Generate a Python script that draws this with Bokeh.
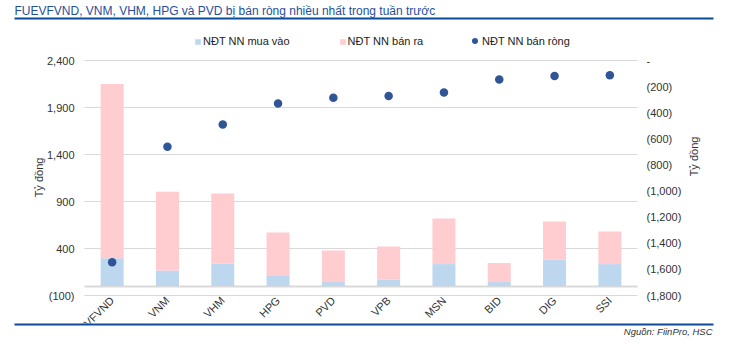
import math
from bokeh.plotting import figure
from bokeh.models import (Range1d, LinearAxis, FixedTicker, ColumnDataSource, Legend,
                          LegendItem, Label, BoxAnnotation, Grid)
from bokeh.embed import file_html
from bokeh.resources import INLINE

# ---------------- data ----------------
tickers = ["FUEVFVND", "VNM", "VHM", "HPG", "PVD", "VPB", "MSN", "BID", "DIG", "SSI"]
buy = [295, 167, 240, 114, 43, 71, 234, 43, 283, 234]          # NĐT NN mua vào
sell = [1855, 838, 744, 456, 336, 350, 485, 202, 404, 347]      # NĐT NN bán ra
net = [-1545, -660, -490, -329, -286, -271, -245, -146, -118, -113]  # NĐT NN bán ròng

left_ticks = [-100, 400, 900, 1400, 1900, 2400]
left_labels = ["(100)", "400", "900", "1,400", "1,900", "2,400"]
right_ticks = [-1800, -1600, -1400, -1200, -1000, -800, -600, -400, -200, 0]
right_labels = ["(1,800)", "(1,600)", "(1,400)", "(1,200)", "(1,000)", "(800)",
                "(600)", "(400)", "(200)", "-"]
series_names = ["NĐT NN mua vào", "NĐT NN bán ra", "NĐT NN bán ròng"]
title_text = "FUEVFVND, VNM, VHM, HPG và PVD bị bán ròng nhiều nhất trong tuần trước"
source_text = "Nguồn: FiinPro, HSC"
unit_text = "Tỷ đồng"

# ---------------- styles / layout ----------------
FONT = "Liberation Sans"
BLUE_BAR = "#bdd7ee"
PINK_BAR = "#ffcccf"
DOT = "#2f5597"
NAVY = "#0d4a97"
TXT = "#333333"
GRID = "#d9d9d9"

W, H = 738, 351
PL, PR, PT, PB = 84, 637, 60, 295   # plot-area edges in canvas pixels (y down)

n = len(tickers)
idx = list(range(n))
lo, hi = left_ticks[0], left_ticks[-1]
rlo, rhi = right_ticks[0], right_ticks[-1]

# the frame covers the whole canvas; ranges are stretched so that the
# plot area sits at PL..PR x PT..PB
xs = n / (PR - PL)
x_range = Range1d(-0.5 - PL * xs, n - 0.5 + (W - PR) * xs)
ys = (hi - lo) / (PB - PT)
y_range = Range1d(lo - (H - PB) * ys, hi + PT * ys)
rs = (rhi - rlo) / (PB - PT)
r_range = Range1d(rlo - (H - PB) * rs, rhi + PT * rs)

src = ColumnDataSource(dict(x=idx, ticker=tickers, buy=buy, sell=sell, net=net))

p = figure(x_range=x_range, y_range=y_range, width=W, height=H,
           output_backend="svg", toolbar_location=None,
           min_border=0, min_border_left=0, min_border_right=0,
           min_border_top=0, min_border_bottom=0,
           outline_line_color=None, background_fill_color="white",
           border_fill_color="white")
p.extra_y_ranges = {"net": r_range}

# grid
p.xgrid.visible = False
p.ygrid.visible = False
p.add_layout(Grid(dimension=1, ticker=FixedTicker(ticks=left_ticks),
                  cross_bounds=(-0.5, n - 0.5), grid_line_color=GRID,
                  grid_line_width=1))
p.add_layout(Grid(dimension=1, ticker=FixedTicker(ticks=[0]),
                  cross_bounds=(-0.5, n - 0.5), grid_line_color=GRID,
                  grid_line_width=2))

# left axis
la = p.yaxis[0]
la.fixed_location = -0.5
la.ticker = FixedTicker(ticks=left_ticks)
la.major_label_overrides = {t: l for t, l in zip(left_ticks, left_labels)}
la.axis_line_color = None
la.major_tick_line_color = None
la.minor_tick_line_color = None
la.major_tick_out = 0
la.major_tick_in = 0
la.major_label_standoff = 10
la.major_label_text_font = FONT
la.major_label_text_font_size = "11px"
la.major_label_text_color = TXT

# right axis
ra = LinearAxis(y_range_name="net", ticker=FixedTicker(ticks=right_ticks),
                fixed_location=n - 0.5)
ra.major_label_overrides = {t: l for t, l in zip(right_ticks, right_labels)}
ra.axis_line_color = None
ra.major_tick_line_color = None
ra.minor_tick_line_color = None
ra.major_tick_out = 0
ra.major_tick_in = 0
ra.major_label_standoff = 9
ra.major_label_text_font = FONT
ra.major_label_text_font_size = "11px"
ra.major_label_text_color = TXT
p.add_layout(ra, "right")

# x axis
xa = p.xaxis[0]
xa.fixed_location = lo
xa.ticker = FixedTicker(ticks=idx)
xa.major_label_overrides = {i: t for i, t in zip(idx, tickers)}
xa.axis_line_color = None
xa.major_tick_line_color = None
xa.minor_tick_line_color = None
xa.major_tick_out = 0
xa.major_tick_in = 0
xa.major_label_orientation = math.pi / 4
xa.major_label_standoff = 3
xa.major_label_text_font = FONT
xa.major_label_text_font_size = "11px"
xa.major_label_text_color = TXT

# bars and dots
bars = p.vbar_stack(["buy", "sell"], x="x", width=0.416, color=[BLUE_BAR, PINK_BAR],
                    line_color=None, source=src)
dots = p.scatter("x", "net", source=src, y_range_name="net", size=8.5,
                 color=DOT, line_color=None)

legend_style = dict(orientation="horizontal", border_line_color=None,
                    background_fill_alpha=0, padding=0, margin=0,
                    label_text_font=FONT, label_text_font_size="11px",
                    label_text_color="#222222", label_text_baseline="middle")
bar_legend = Legend(items=[LegendItem(label=series_names[0], renderers=[bars[0]]),
                           LegendItem(label=series_names[1], renderers=[bars[1]])],
                    location=(194, H - 47), spacing=49, glyph_width=7, glyph_height=7,
                    label_standoff=2, label_height=12, **legend_style)
dot_legend = Legend(items=[LegendItem(label=series_names[2], renderers=[dots])],
                    location=(467, H - 48), glyph_width=15, glyph_height=15,
                    label_standoff=-2, label_height=12, **legend_style)
p.add_layout(bar_legend)
p.add_layout(dot_legend)

# title + rule
p.add_layout(Label(x=14, y=H - 3, x_units="screen", y_units="screen",
                   text=title_text, text_font=FONT, text_font_size="12px",
                   text_color="#1f4f9c", text_baseline="top", text_align="left"))
p.add_layout(BoxAnnotation(left=14, right=713, top=H - 17, bottom=H - 19,
                           left_units="screen", right_units="screen",
                           top_units="screen", bottom_units="screen",
                           fill_color=NAVY, fill_alpha=1, line_color=None))
# axis titles
p.add_layout(Label(x=38, y=H - 177, x_units="screen", y_units="screen",
                   text=unit_text, angle=math.pi / 2, text_font=FONT,
                   text_font_size="11px", text_color=TXT,
                   text_baseline="middle", text_align="center"))
p.add_layout(Label(x=693, y=H - 156, x_units="screen", y_units="screen",
                   text=unit_text, angle=math.pi / 2, text_font=FONT,
                   text_font_size="11px", text_color=TXT,
                   text_baseline="middle", text_align="center"))
# chart-area clipping below the bottom rule, then rule and source
p.add_layout(BoxAnnotation(left=0, right=W, top=H - 323, bottom=0,
                           left_units="screen", right_units="screen",
                           top_units="screen", bottom_units="screen",
                           fill_color="white", fill_alpha=1, line_color=None))
p.add_layout(BoxAnnotation(left=14, right=713, top=H - 323, bottom=H - 325,
                           left_units="screen", right_units="screen",
                           top_units="screen", bottom_units="screen",
                           fill_color=NAVY, fill_alpha=1, line_color=None))
p.add_layout(Label(x=712, y=H - 331, x_units="screen", y_units="screen",
                   text=source_text, text_font=FONT, text_font_size="9.5px",
                   text_font_style="italic", text_color=TXT,
                   text_baseline="middle", text_align="right"))

open("out.html", "w").write(file_html(p, INLINE))
